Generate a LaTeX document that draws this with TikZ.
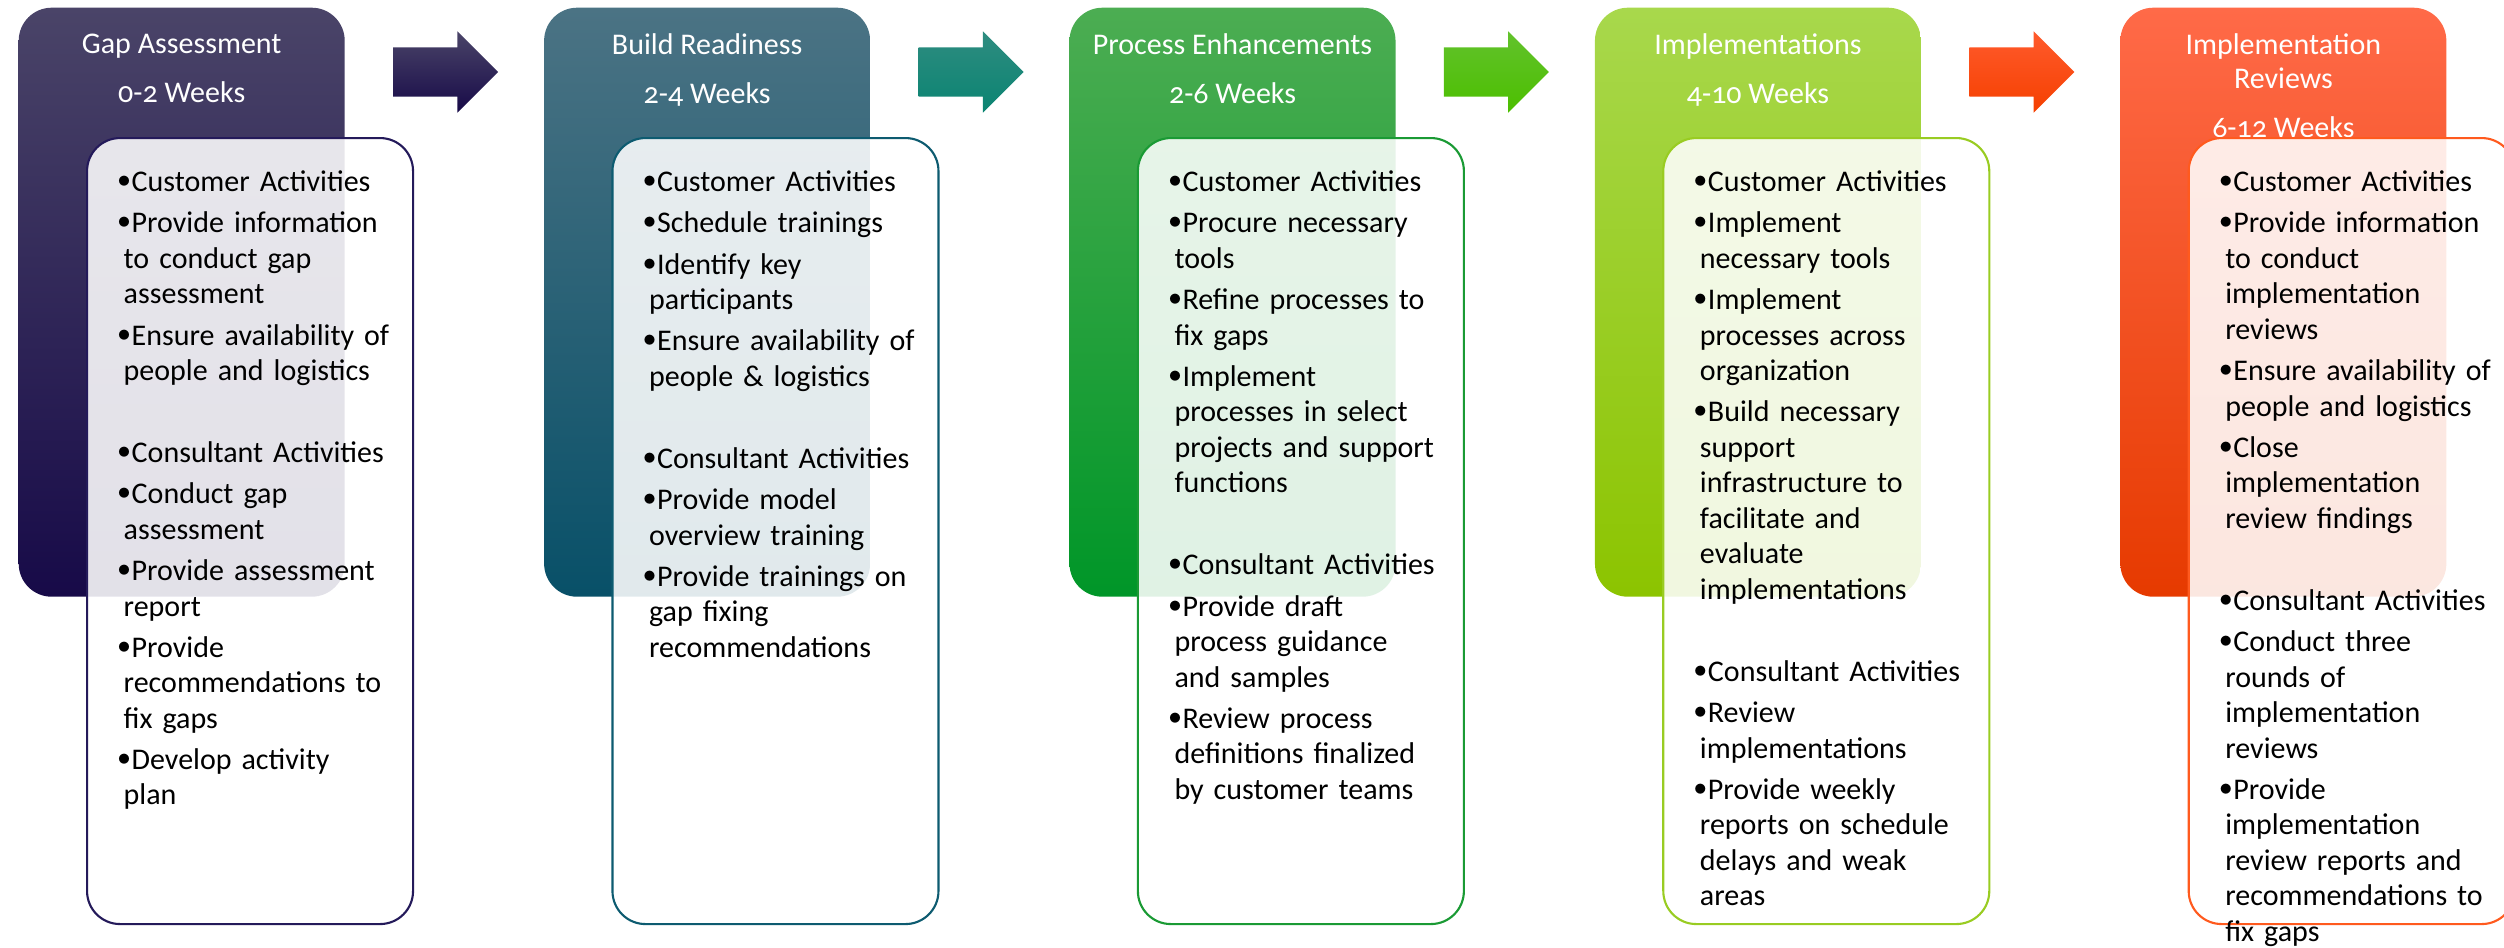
\documentclass[tikz,border=0pt]{standalone}
\usepackage{graphicx}
\usepackage{fontspec}
\setmainfont{Carlito}
\newfontfamily\weeksfont[Numbers=OldStyle]{Carlito}
\usetikzlibrary{shapes.arrows, calc, positioning}

\definecolor{gapTop}{HTML}{4A4468}
\definecolor{gapMid}{HTML}{1C104D}
\definecolor{gapBot}{HTML}{170A48}
\definecolor{gapLine}{HTML}{241A5A}
\definecolor{readyTop}{HTML}{4B7384}
\definecolor{readyMid}{HTML}{14617A}
\definecolor{readyBot}{HTML}{085068}
\definecolor{readyLine}{HTML}{0D5B70}
\definecolor{enhTop}{HTML}{4CAD52}
\definecolor{enhMid}{HTML}{14A032}
\definecolor{enhBot}{HTML}{009628}
\definecolor{enhLine}{HTML}{1A9A34}
\definecolor{implTop}{HTML}{A8D84C}
\definecolor{implMid}{HTML}{9CD300}
\definecolor{implBot}{HTML}{8CC400}
\definecolor{implLine}{HTML}{99CC22}
\definecolor{revTop}{HTML}{FF6A48}
\definecolor{revMid}{HTML}{FF4500}
\definecolor{revBot}{HTML}{E63A00}
\definecolor{revLine}{HTML}{FF5A1E}
\definecolor{arrTealTop}{HTML}{2E8C80}
\definecolor{arrTealBot}{HTML}{0B8472}
\definecolor{arrGreenTop}{HTML}{62C22C}
\definecolor{arrGreenBot}{HTML}{4CBF00}
\definecolor{arrRedTop}{HTML}{FF5A2C}
\definecolor{arrRedBot}{HTML}{F54000}

\newcommand{\headfont}{\fontsize{8.54pt}{9.67pt}\selectfont}
\newcommand{\listfont}{\fontsize{8.54pt}{10.1pt}\selectfont}
\newcommand{\listsetup}{\setlength{\parskip}{1.6pt}\raggedright\setlength{\leftskip}{0.06cm}}
\newcommand{\listdot}{\raisebox{0.04cm}{\scalebox{0.8}{$\bullet$}}}
\newcommand{\phaseitem}[1]{\par\hspace*{-0.06cm}\makebox[0.14cm][l]{\listdot}\strut #1}
\newcommand{\blankitem}{\par\mbox{}}

\tikzstyle{phase} = [rectangle, rounded corners=0.33cm, minimum width=3.26cm, minimum height=5.89cm, inner sep=0pt, anchor=north west]
\tikzstyle{tasks} = [rectangle, rounded corners=0.33cm, minimum width=3.26cm, minimum height=7.86cm, inner sep=0pt, fill=white, fill opacity=0.88, line width=0.6pt]
\tikzstyle{header} = [align=center, text=white, inner sep=0pt, font=\headfont, execute at begin node=\strut]
\tikzstyle{list} = [text width=3.2cm, inner sep=0pt, font=\listfont, execute at begin node=\listsetup]
\tikzstyle{phasearrow} = [single arrow, single arrow head extend=0.16cm, minimum height=1.05cm, inner xsep=0pt, inner ysep=0.24cm]

\begin{document}
\begin{tikzpicture}[node distance = 1.98cm, auto]
		\useasboundingbox (0,0) rectangle (25.04,-9.47);
		% phase columns
		\node (GapPhase) [phase, top color=gapTop, middle color=gapMid, bottom color=gapBot] at (0.18,-0.07) {};
		\node (ReadyPhase) [phase, top color=readyTop, middle color=readyMid, bottom color=readyBot, right = of GapPhase] {};
		\node (EnhPhase) [phase, top color=enhTop, middle color=enhMid, bottom color=enhBot, right = of ReadyPhase] {};
		\node (ImplPhase) [phase, top color=implTop, middle color=implMid, bottom color=implBot, right = of EnhPhase] {};
		\node (RevPhase) [phase, top color=revTop, middle color=revMid, bottom color=revBot, right = of ImplPhase] {};
		% headers
		\node (GapHead) [header, below = 0.26cm of GapPhase.north] {Gap Assessment\\[4.3pt]{\weeksfont 0-2 Weeks}};
		\node (ReadyHead) [header, below = 0.26cm of ReadyPhase.north] {Build Readiness\\[4.3pt]{\weeksfont 2-4 Weeks}};
		\node (EnhHead) [header, below = 0.26cm of EnhPhase.north] {Process Enhancements\\[4.3pt]{\weeksfont 2-6 Weeks}};
		\node (ImplHead) [header, below = 0.26cm of ImplPhase.north] {Implementations\\[4.3pt]{\weeksfont 4-10 Weeks}};
		\node (RevHead) [header, below = 0.26cm of RevPhase.north] {Implementation\\Reviews\\[4.3pt]{\weeksfont 6-12 Weeks}};
		% arrows between phases
		\node (GapArrow) [phasearrow, top color=gapTop, bottom color=gapBot, right = 0.47cm of GapPhase.north east, yshift=-0.65cm] {};
		\node (ReadyArrow) [phasearrow, top color=arrTealTop, bottom color=arrTealBot, right = 0.47cm of ReadyPhase.north east, yshift=-0.65cm] {};
		\node (EnhArrow) [phasearrow, top color=arrGreenTop, bottom color=arrGreenBot, right = 0.47cm of EnhPhase.north east, yshift=-0.65cm] {};
		\node (ImplArrow) [phasearrow, top color=arrRedTop, bottom color=arrRedBot, right = 0.47cm of ImplPhase.north east, yshift=-0.65cm] {};
		% activity boxes
		\node (GapBox) [tasks, draw=gapLine, below right = 1.30cm and 0.68cm of GapPhase.north west] {};
		\node (ReadyBox) [tasks, draw=readyLine, below right = 1.30cm and 0.68cm of ReadyPhase.north west] {};
		\node (EnhBox) [tasks, draw=enhLine, below right = 1.30cm and 0.68cm of EnhPhase.north west] {};
		\node (ImplBox) [tasks, draw=implLine, below right = 1.30cm and 0.68cm of ImplPhase.north west] {};
		\node (RevBox) [tasks, draw=revLine, below right = 1.30cm and 0.68cm of RevPhase.north west] {};
		% activity lists
		\node (GapList) [list, below right = 0.13cm and 0.31cm of GapBox.north west] {
			\phaseitem{Customer Activities}
			\phaseitem{Provide information\newline to conduct gap\newline assessment}
			\phaseitem{Ensure availability of\newline people and logistics}
			\blankitem
			\phaseitem{Consultant Activities}
			\phaseitem{Conduct gap\newline assessment}
			\phaseitem{Provide assessment\newline report}
			\phaseitem{Provide\newline recommendations to\newline fix gaps}
			\phaseitem{Develop activity\newline plan}
		};
		\node (ReadyList) [list, below right = 0.13cm and 0.31cm of ReadyBox.north west] {
			\phaseitem{Customer Activities}
			\phaseitem{Schedule trainings}
			\phaseitem{Identify key\newline participants}
			\phaseitem{Ensure availability of\newline people \& logistics}
			\blankitem
			\phaseitem{Consultant Activities}
			\phaseitem{Provide model\newline overview training}
			\phaseitem{Provide trainings on\newline gap fixing\newline recommendations}
		};
		\node (EnhList) [list, below right = 0.13cm and 0.31cm of EnhBox.north west] {
			\phaseitem{Customer Activities}
			\phaseitem{Procure necessary\newline tools}
			\phaseitem{Refine processes to\newline fix gaps}
			\phaseitem{Implement\newline processes in select\newline projects and support\newline functions}
			\blankitem
			\phaseitem{Consultant Activities}
			\phaseitem{Provide draft\newline process guidance\newline and samples}
			\phaseitem{Review process\newline definitions finalized\newline by customer teams}
		};
		\node (ImplList) [list, below right = 0.13cm and 0.31cm of ImplBox.north west] {
			\phaseitem{Customer Activities}
			\phaseitem{Implement\newline necessary tools}
			\phaseitem{Implement\newline processes across\newline organization}
			\phaseitem{Build necessary\newline support\newline infrastructure to\newline facilitate and\newline evaluate\newline implementations}
			\blankitem
			\phaseitem{Consultant Activities}
			\phaseitem{Review\newline implementations}
			\phaseitem{Provide weekly\newline reports on schedule\newline delays and weak\newline areas}
		};
		\node (RevList) [list, below right = 0.13cm and 0.31cm of RevBox.north west] {
			\phaseitem{Customer Activities}
			\phaseitem{Provide information\newline to conduct\newline implementation\newline reviews}
			\phaseitem{Ensure availability of\newline people and logistics}
			\phaseitem{Close\newline implementation\newline review findings}
			\blankitem
			\phaseitem{Consultant Activities}
			\phaseitem{Conduct three\newline rounds of\newline implementation\newline reviews}
			\phaseitem{Provide\newline implementation\newline review reports and\newline recommendations to\newline fix gaps}
		};
\end{tikzpicture}
\end{document}
